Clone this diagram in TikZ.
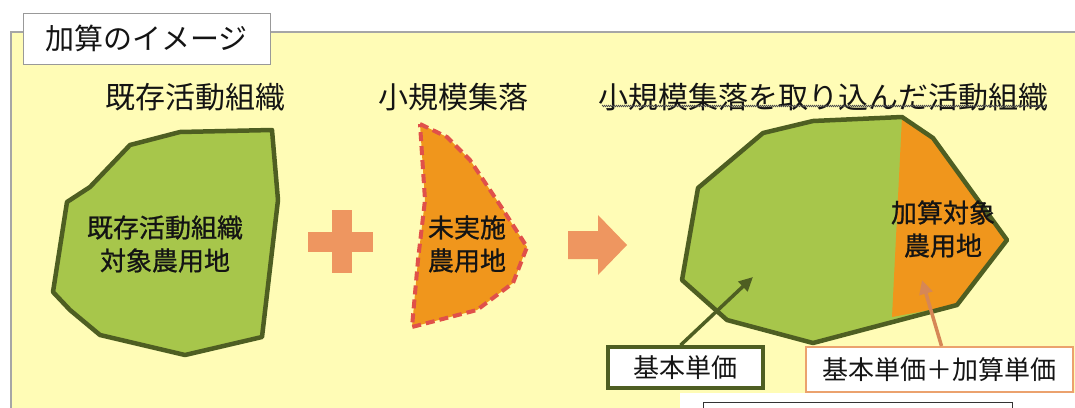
\documentclass[tikz,border=0pt]{standalone}
\usepackage{fontspec}
\newfontfamily\jp{Noto Sans CJK JP}
\newfontfamily\jpb[FakeBold=0.9]{Noto Sans CJK JP}
\usetikzlibrary{arrows.meta,decorations.pathmorphing,calc}
\definecolor{panel}{HTML}{FFFCB6}
\definecolor{leaf}{HTML}{A7C64B}
\definecolor{olive}{HTML}{4E5E22}
\definecolor{amber}{HTML}{F0961C}
\definecolor{coral}{HTML}{E0504A}
\definecolor{salmon}{HTML}{EE9660}
\definecolor{peach}{HTML}{EBA26E}
\definecolor{ink}{HTML}{141414}
\tikzset{
  heading/.style={font=\jp\fontsize{30}{34}\selectfont, text=ink, inner sep=0pt},
  label/.style={font=\jpb\fontsize{26}{33}\selectfont, text=ink, align=center, inner sep=0pt},
  pricebox/.style={font=\jp\fontsize{26}{30}\selectfont, text=ink, fill=white, inner sep=0pt},
  landline/.style={draw=olive, line width=4.5pt, line join=round},
  pointer/.style={line width=3.5pt, -{Triangle[length=14pt,width=13pt]}},
}
\begin{document}
\begin{tikzpicture}[x=1pt,y=-1pt]
\useasboundingbox (0,0) rectangle (1075,407);
\clip (0,0) rectangle (1075,407);
\fill[white] (0,0) rectangle (1075,407);
% panel
\fill[panel] (11,32) rectangle (1080,410);
\draw[draw=gray!70, line width=1.5pt] (11,410) -- (11,32) -- (1080,32);
% title box
\node[draw=gray!80, line width=1pt, fill=white, minimum width=247pt, minimum height=51pt, inner sep=0pt,
      font=\jp\fontsize{29}{32}\selectfont, text=ink] (title) at (146.5,38.5) {加算のイメージ};
% headings
\node[heading] (h1) at (195,97) {既存活動組織};
\node[heading] (h2) at (453,97) {小規模集落};
\node[heading] (h3) at (823,97) {小規模集落を取り込んだ活動組織};
\draw[gray!60!black, line width=0.6pt, decorate, decoration={zigzag, amplitude=0.8pt, segment length=2pt}]
  (602,106) -- (1046,106);
% shape 1
\filldraw[fill=leaf, landline] (272,130) -- (180,132) -- (130,145) -- (90,187) -- (67,202) -- (53,292)
  -- (70,310) -- (100,335) -- (185,355) -- (262,337) -- (278,200) -- cycle;
\node[label] (l1) at (165,244) {既存活動組織\\対象農用地};
% plus
\fill[salmon] (332,210) rectangle (352,273);
\fill[salmon] (308,232) rectangle (373,252);
% shape 2
\filldraw[fill=amber, draw=coral, line width=4pt, dash pattern=on 9pt off 5pt, line join=round]
  (420,124) -- (447,137) -- (470,160) -- (500,205) -- (527,247) -- (513,283) -- (477,310)
  -- (412,327) -- (418,260) -- (425,200) -- cycle;
\node[label] (l2) at (467,244) {未実施\\農用地};
% block arrow
\fill[salmon] (568,231) -- (598,231) -- (598,215) -- (627,245) -- (598,275) -- (598,259) -- (568,259) -- cycle;
% shape 3
\fill[leaf] (902,117) -- (813,121) -- (763,133) -- (698,188) -- (682,280) -- (727,320) -- (813,343)
  -- (957,305) -- (1007,240) -- (933,138) -- cycle;
\fill[amber] (902,117) -- (933,138) -- (1007,240) -- (957,305) -- (892,317) -- cycle;
\draw[landline] (902,117) -- (813,121) -- (763,133) -- (698,188) -- (682,280) -- (727,320) -- (813,343)
  -- (957,305) -- (1007,240) -- (933,138) -- cycle;
\node[label] (l3) at (943,229) {加算対象\\農用地};
% price boxes
\node[pricebox, draw=olive, line width=3.5pt, minimum width=155pt, minimum height=41pt] (b1) at (685.5,367.5) {基本単価};
\node[pricebox, draw=peach, line width=2pt, minimum width=267pt, minimum height=45pt] (b2) at (939.5,369.5) {基本単価＋加算単価};
\coordinate (t1) at (753,277);
\coordinate (t2) at (922,280);
\draw[pointer, olive] ([xshift=-5pt]b1.north) -- (t1);
\draw[pointer, salmon!90!black] ([xshift=2pt]b2.north) -- (t2);
% bottom strip
\fill[white] (680,393) rectangle (1080,410);
\node[draw=black!80, line width=1pt, fill=white, minimum width=309pt, minimum height=20pt, inner sep=0pt] (b3) at (857.5,412) {};
\end{tikzpicture}
\end{document}
